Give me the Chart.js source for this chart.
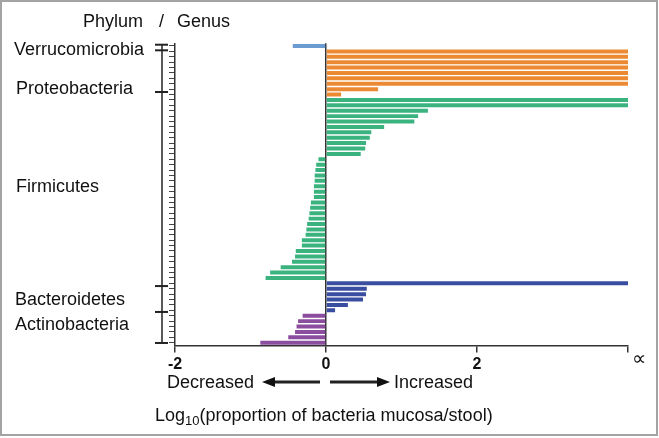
<!DOCTYPE html>
<html>
<head>
<meta charset="utf-8">
<script src="https://cdn.jsdelivr.net/npm/chart.js@4.4.1/dist/chart.umd.min.js"></script>
<style>
html, body { margin: 0; padding: 0; background: #fff; }
canvas { display: block; }
</style>
</head>
<body>
<canvas id="chartCanvas" width="659" height="438"></canvas>
<script>
// genera with no stool counts are drawn out to the "infinite" tick
const INF = 4;

const phyla = ["Verrucomicrobia", "Proteobacteria", "Firmicutes", "Bacteroidetes", "Actinobacteria"];

const verrucomicrobia = [-0.44];
const proteobacteria = [INF, INF, INF, INF, INF, INF, INF, 0.69, 0.2];
const firmicutes = [
    INF, INF, 1.35, 1.22, 1.17, 0.77, 0.6, 0.58, 0.53, 0.52, 0.46,
    -0.1, -0.13, -0.14, -0.15, -0.15, -0.16, -0.16, -0.16, -0.2, -0.21, -0.22, -0.23,
    -0.25, -0.26, -0.27, -0.32, -0.32, -0.4, -0.41, -0.45, -0.6, -0.74, -0.8
];
const bacteroidetes = [INF, 0.54, 0.53, 0.49, 0.29, 0.12];
const actinobacteria = [-0.31, -0.37, -0.39, -0.41, -0.5, -0.87];

const phylumColors = ["#6b9bd1", "#ec8a33", "#3bb37f", "#3a4ea1", "#8b4d9e"];

const xTickLabels = { "-2": "-2", "0": "0", "2": "2", "4": "" };

const groups = [verrucomicrobia, proteobacteria, firmicutes, bacteroidetes, actinobacteria];

const labels = [];
const values = [];
const colors = [];

groups.forEach((g, gi) => {
    g.forEach((v, i) => {
        labels.push(phyla[gi] + " " + (i + 1));
        values.push(v);
        colors.push(phylumColors[gi]);
    });
});

const FONT = '"Liberation Sans", Arial, sans-serif';

const decor = {
    id: "decor",
    afterDraw(chart) {
        const ctx = chart.ctx;
        const ys = chart.scales.y;
        const xs = chart.scales.x;

        ctx.save();
        ctx.fillStyle = "#111";
        ctx.strokeStyle = "#222";
        ctx.textBaseline = "alphabetic";
        ctx.font = "18px " + FONT;

        // header
        ctx.fillText("Phylum", 83, 26.5);
        ctx.fillText("/", 159, 26.5);
        ctx.fillText("Genus", 177, 26.5);

        // phylum names
        const nameRows = [0.43, 7.8, 25.9, 46.9, 51.4];
        const nameX = [14, 16, 16, 15, 15];
        phyla.forEach((p, i) => {
            ctx.fillText(p, nameX[i], ys.getPixelForValue(nameRows[i]) + 6.4);
        });

        // bracket that groups the genera
        const cuts = [-0.24, 0.8, 8.53, 44.5, 49.3, 55.05];
        const top = ys.getPixelForValue(cuts[0]);
        const bottom = ys.getPixelForValue(cuts[cuts.length - 1]);
        ctx.lineWidth = 1.5;
        ctx.beginPath();
        ctx.moveTo(162, top);
        ctx.lineTo(162, bottom);
        ctx.stroke();
        ctx.lineWidth = 2;
        cuts.forEach(c => {
            const py = ys.getPixelForValue(c);
            ctx.beginPath();
            ctx.moveTo(155, py);
            ctx.lineTo(168, py);
            ctx.stroke();
        });

        // infinity mark at the end of the axis
        ctx.font = "20px " + FONT;
        ctx.textAlign = "center";
        ctx.textBaseline = "middle";
        ctx.fillText("\u221D", xs.getPixelForValue(INF) + 11, 359);

        // direction arrows
        ctx.textAlign = "left";
        ctx.textBaseline = "alphabetic";
        ctx.font = "18px " + FONT;
        ctx.fillText("Decreased", 167, 388);
        ctx.fillText("Increased", 394, 388);

        const ay = 382;
        ctx.lineWidth = 3;
        ctx.beginPath();
        ctx.moveTo(320, ay);
        ctx.lineTo(272, ay);
        ctx.moveTo(330, ay);
        ctx.lineTo(380, ay);
        ctx.stroke();
        ctx.fillStyle = "#111";
        ctx.beginPath();
        ctx.moveTo(262, ay);
        ctx.lineTo(275, ay - 5);
        ctx.lineTo(275, ay + 5);
        ctx.closePath();
        ctx.fill();
        ctx.beginPath();
        ctx.moveTo(390, ay);
        ctx.lineTo(377, ay - 5);
        ctx.lineTo(377, ay + 5);
        ctx.closePath();
        ctx.fill();

        // axis title with subscript
        let tx = 155;
        ctx.fillText("Log", tx, 420.5);
        tx += ctx.measureText("Log").width;
        ctx.font = "13px " + FONT;
        ctx.fillText("10", tx, 424.5);
        tx += ctx.measureText("10").width;
        ctx.font = "18px " + FONT;
        ctx.fillText("(proportion of bacteria mucosa/stool)", tx, 420.5);

        // frame
        ctx.strokeStyle = "#a3a3a3";
        ctx.lineWidth = 2;
        ctx.strokeRect(1, 1, 656, 434);

        ctx.restore();
    }
};

const ctx = document.getElementById("chartCanvas").getContext("2d");

new Chart(ctx, {
    type: "bar",
    data: {
        labels,
        datasets: [{
            data: values,
            backgroundColor: colors,
            borderWidth: 0,
            barPercentage: 0.74,
            categoryPercentage: 1
        }]
    },
    options: {
        indexAxis: "y",
        responsive: false,
        animation: false,
        devicePixelRatio: 1,
        layout: {
            padding: { left: 169, right: 31, top: 43.3, bottom: 52.6 }
        },
        plugins: {
            legend: { display: false },
            tooltip: { enabled: false }
        },
        scales: {
            x: {
                type: "linear",
                min: -2,
                max: INF,
                afterFit: s => { s.height = 40; },
                ticks: {
                    stepSize: 2,
                    padding: 3,
                    color: "#111",
                    font: { family: FONT, size: 16, weight: "bold" },
                    callback: v => xTickLabels[String(v)]
                },
                grid: {
                    color: c => (c.tick && c.tick.value === 0) ? "#333" : "rgba(0,0,0,0)",
                    tickColor: "#333",
                    tickLength: 7,
                    lineWidth: 1.5
                },
                border: { color: "#333", width: 1.5 }
            },
            y: {
                type: "category",
                afterFit: s => { s.width = 6; },
                ticks: { display: false },
                grid: {
                    offset: false,
                    drawOnChartArea: false,
                    tickLength: 6,
                    color: "#444",
                    lineWidth: 1
                },
                border: { color: "#333", width: 1.5 }
            }
        }
    },
    plugins: [decor]
});
</script>
</body>
</html>
